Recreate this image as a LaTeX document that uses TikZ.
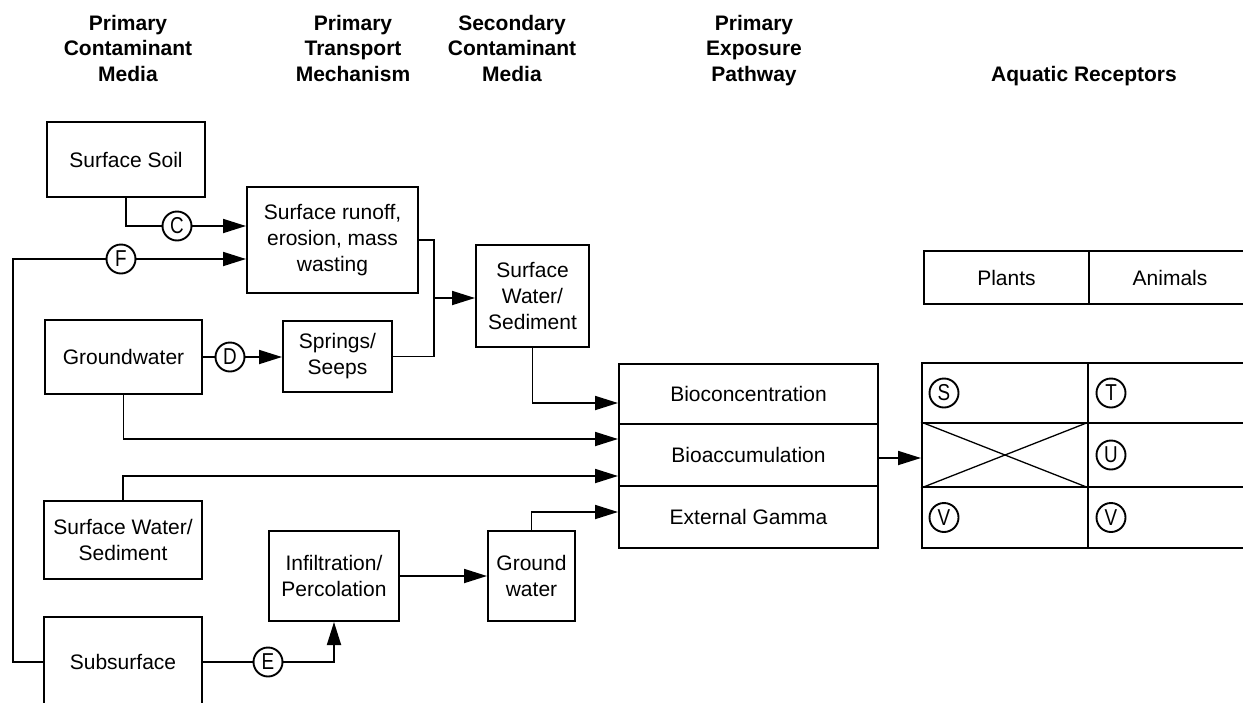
\documentclass[tikz,border=0pt]{standalone}
\usepackage{fontspec}
\setmainfont{Liberation Sans}
\newfontfamily\tagfont[FakeStretch=0.82]{Liberation Sans}
\usetikzlibrary{arrows.meta}
\begin{document}
\begin{tikzpicture}[x=1pt,y=-1pt,
  box/.style={draw,line width=2pt,inner sep=0pt,align=center,font=\fontsize{21}{26}\selectfont},
  cell/.style={draw,line width=2pt,inner sep=0pt},
  hdr/.style={align=center,font=\fontsize{21}{25.5}\selectfont\bfseries},
  tag/.style={draw,circle,line width=1.9pt,minimum size=29pt,inner sep=0pt,fill=white,font=\tagfont\fontsize{23}{23}\selectfont},
  conn/.style={line width=1.8pt},
  arr/.style={conn,-{Triangle[length=23pt,width=14pt]}},
]
\clip (0,0) rectangle (1243,702);

% column headings
\node[hdr] (h1) at (128,48) {Primary\\Contaminant\\Media};
\node[hdr] (h2) at (353,48) {Primary\\Transport\\Mechanism};
\node[hdr] (h3) at (512,48) {Secondary\\Contaminant\\Media};
\node[hdr] (h4) at (754,50.5) {Primary\\Exposure\\Pathway};
\node[hdr] (h5) at (1084,76) {Aquatic Receptors};

% primary media
\node[box,minimum width=158pt,minimum height=75pt] (ss) at (126,159.5) {Surface Soil};
\node[box,minimum width=157pt,minimum height=74pt] (gw) at (123.5,357) {Groundwater};
\node[box,minimum width=158pt,minimum height=78pt] (swp) at (123,540) {Surface Water/\\Sediment};
\node[box,minimum width=158pt,minimum height=90pt] (sub) at (123,662) {Subsurface};

% transport mechanisms
\node[box,minimum width=171pt,minimum height=106pt] (run) at (332.5,240) {Surface runoff,\\erosion, mass\\wasting};
\node[box,minimum width=109pt,minimum height=71pt] (spr) at (337.5,356.5) {Springs/\\Seeps};
\node[box,minimum width=130pt,minimum height=90pt] (inf) at (334,576) {Infiltration/\\Percolation};

% secondary media
\node[box,minimum width=113pt,minimum height=102pt] (sws) at (532.5,296) {Surface\\Water/\\Sediment};
\node[box,minimum width=87pt,minimum height=90pt] (grw) at (531.5,576) {Ground\\water};

% exposure pathways
\node[box,minimum width=259pt,minimum height=60pt] (bioc) at (748.5,394) {Bioconcentration};
\node[box,minimum width=259pt,minimum height=62pt] (bioa) at (748.5,455) {Bioaccumulation};
\node[box,minimum width=259pt,minimum height=62pt] (ext) at (748.5,517) {External Gamma};

% receptor headings
\node[box,minimum width=165pt,minimum height=53pt] (pl) at (1006.5,277.5) {Plants};
\node[box,minimum width=162pt,minimum height=53pt] (an) at (1170,277.5) {Animals};

% receptor grid
\node[cell,minimum width=166pt,minimum height=60pt] (rS) at (1005,393) {};
\node[cell,minimum width=164pt,minimum height=60pt] (rT) at (1170,393) {};
\node[cell,minimum width=166pt,minimum height=64pt] (rX) at (1005,455) {};
\node[cell,minimum width=164pt,minimum height=64pt] (rU) at (1170,455) {};
\node[cell,minimum width=166pt,minimum height=61pt] (rV1) at (1005,517.5) {};
\node[cell,minimum width=164pt,minimum height=61pt] (rV2) at (1170,517.5) {};
\draw[line width=1.3pt] (rX.north west) -- (rX.south east);
\draw[line width=1.3pt] (rX.south west) -- (rX.north east);
\node[tag] (tS) at ([xshift=23pt]rS.west) {S};
\node[tag] (tT) at ([xshift=24pt]rT.west) {T};
\node[tag] (tU) at ([xshift=24pt]rU.west) {U};
\node[tag] (tV1) at ([xshift=23pt]rV1.west) {V};
\node[tag] (tV2) at ([xshift=24pt]rV2.west) {V};

% pathway tags
\node[tag] (cC) at (177,226) {C};
\node[tag] (cF) at (121,259) {F};
\node[tag] (cD) at (230,357) {D};
\node[tag] (cE) at (268,662) {E};
\coordinate (fk) at (13,259);
\coordinate (jn) at (434,298);

% connectors
\draw[conn] (ss.south) |- (cC);
\draw[arr] (cC) -- (cC -| run.west);
\draw[conn] (sub.west) -| (fk) -- (cF);
\draw[arr] (cF) -- (cF -| run.west);
\draw[conn] (gw.east) -- (cD);
\draw[arr] (cD) -- (cD -| spr.west);
\draw[conn] (run.east) -| (jn) |- (spr.east);
\draw[arr] (jn) -- (jn -| sws.west);
\draw[arr] (sws.south) |- ([yshift=-9pt]bioc.west);
\draw[arr] (gw.south) |- ([yshift=16pt]bioa.west);
\draw[arr] (swp.north) |- ([yshift=-21pt]bioa.west);
\draw[arr] (grw.north) |- ([yshift=5pt]ext.west);
\draw[arr] (inf.east) -- (grw.west);
\draw[conn] (sub.east) -- (cE);
\draw[arr] (cE) -| (inf.south);
\draw[arr] ([yshift=-3pt]bioa.east) -- ([yshift=-3pt]rX.west);
\end{tikzpicture}
\end{document}
